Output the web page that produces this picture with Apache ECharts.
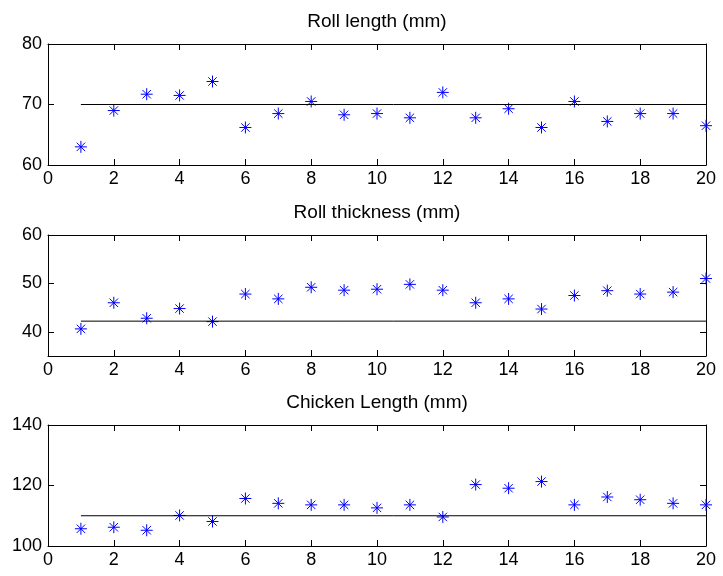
<!DOCTYPE html>
<html>
<head>
<meta charset="utf-8">
<title>Roll and chicken measurements</title>
<script src="https://cdn.jsdelivr.net/npm/echarts@6/dist/echarts.min.js"></script>
<style>
  html, body { margin: 0; padding: 0; background: #fff; }
  #chart { width: 723px; height: 576px; }
</style>
</head>
<body>
<div id="chart"></div>
<script>
// Sample number for each measurement
var samples = [1, 2, 3, 4, 5, 6, 7, 8, 9, 10, 11, 12, 13, 14, 15, 16, 17, 18, 19, 20];

// Measured values (mm)
var rollLength = [63.0, 69.0, 71.7, 71.5, 73.8, 66.2, 68.5, 70.5, 68.3, 68.5,
                  67.8, 72.0, 67.8, 69.3, 66.2, 70.5, 67.2, 68.5, 68.5, 66.5];
var rollThickness = [40.6, 46.0, 42.8, 44.8, 42.1, 47.8, 46.8, 49.2, 48.6, 48.8,
                     49.8, 48.6, 46.0, 46.8, 44.7, 47.5, 48.5, 47.8, 48.2, 51.0];
var chickenLength = [105.7, 106.2, 105.2, 110.1, 108.1, 115.7, 114.1, 113.6, 113.6, 112.6,
                     113.6, 109.6, 120.3, 119.1, 121.3, 113.6, 116.2, 115.3, 114.1, 113.6];

// Nominal value for each measurement
var rollLengthNominal = 70;
var rollThicknessNominal = 42.2;
var chickenLengthNominal = 110;

// Panel titles
var titles = ['Roll length (mm)', 'Roll thickness (mm)', 'Chicken Length (mm)'];

// Axis ranges and tick labels
var xMin = 0, xMax = 20, xStep = 2;
var rollLengthTicks = [60, 70, 80];
var rollThicknessTicks = [40, 50, 60];
var chickenLengthTicks = [100, 120, 140];
var yRanges = [[60, 80], [35, 60], [100, 140]];

var panels = [
  { values: rollLength, nominal: rollLengthNominal, ticks: rollLengthTicks },
  { values: rollThickness, nominal: rollThicknessNominal, ticks: rollThicknessTicks },
  { values: chickenLength, nominal: chickenLengthNominal, ticks: chickenLengthTicks }
];

var FONT = 'Liberation Sans, Arial, Helvetica, sans-serif';
var plotLeft = 48, plotRight = 17, plotHeight = 121;
var plotTops = [44, 235, 425];

// MATLAB-style '*' marker: a plus and a cross
var starPath = 'path://M6,0L6,12M0,6L12,6M1.8,1.8L10.2,10.2M1.8,10.2L10.2,1.8';

var boxLine = { show: true, onZero: false, lineStyle: { color: '#000', width: 1 } };
var innerTick = { show: true, inside: true, length: 6, lineStyle: { color: '#000', width: 1 } };

var grid = [], xAxis = [], yAxis = [], series = [], graphic = [];

panels.forEach(function (p, i) {
  grid.push({ left: plotLeft, right: plotRight, top: plotTops[i], height: plotHeight });

  // bottom axis with labels, top axis closes the box
  xAxis.push({
    type: 'value', gridIndex: i, position: 'bottom',
    min: xMin, max: xMax, interval: xStep,
    axisLine: boxLine, axisTick: innerTick, splitLine: { show: false },
    axisLabel: { show: true, margin: 5, color: '#000', fontSize: 18, fontFamily: FONT }
  });
  xAxis.push({
    type: 'value', gridIndex: i, position: 'top',
    min: xMin, max: xMax, interval: xStep,
    axisLine: boxLine, axisTick: innerTick, splitLine: { show: false },
    axisLabel: { show: false }
  });

  // left axis with labels, right axis closes the box
  yAxis.push({
    type: 'value', gridIndex: i, position: 'left',
    min: yRanges[i][0], max: yRanges[i][1],
    axisLine: boxLine,
    axisTick: Object.assign({ customValues: p.ticks }, innerTick),
    splitLine: { show: false },
    axisLabel: { show: true, customValues: p.ticks, margin: 6, color: '#000', fontSize: 18, fontFamily: FONT }
  });
  yAxis.push({
    type: 'value', gridIndex: i, position: 'right',
    min: yRanges[i][0], max: yRanges[i][1],
    axisLine: boxLine,
    axisTick: Object.assign({ customValues: p.ticks }, innerTick),
    splitLine: { show: false },
    axisLabel: { show: false }
  });

  // nominal line across the samples
  series.push({
    type: 'line', xAxisIndex: 2 * i, yAxisIndex: 2 * i,
    data: [[samples[0], p.nominal], [samples[samples.length - 1], p.nominal]],
    symbol: 'none', silent: true,
    lineStyle: { color: '#000', width: 1 }
  });

  // measured points
  series.push({
    type: 'scatter', xAxisIndex: 2 * i, yAxisIndex: 2 * i,
    data: samples.map(function (s, k) { return [s, p.values[k]]; }),
    symbol: starPath, symbolSize: 12, clip: false,
    itemStyle: { color: 'none', borderColor: '#0000ff', borderWidth: 1, opacity: 1 }
  });

  graphic.push({
    type: 'text', left: null, x: plotLeft + (723 - plotLeft - plotRight) / 2, y: plotTops[i] - 22,
    style: {
      text: titles[i], fill: '#000', fontSize: 19, fontFamily: FONT,
      textAlign: 'center', textVerticalAlign: 'middle'
    }
  });
});

var chart = echarts.init(document.getElementById('chart'), null, { renderer: 'canvas' });
chart.setOption({
  animation: false,
  backgroundColor: '#fff',
  grid: grid,
  xAxis: xAxis,
  yAxis: yAxis,
  series: series,
  graphic: graphic
});
</script>
</body>
</html>
